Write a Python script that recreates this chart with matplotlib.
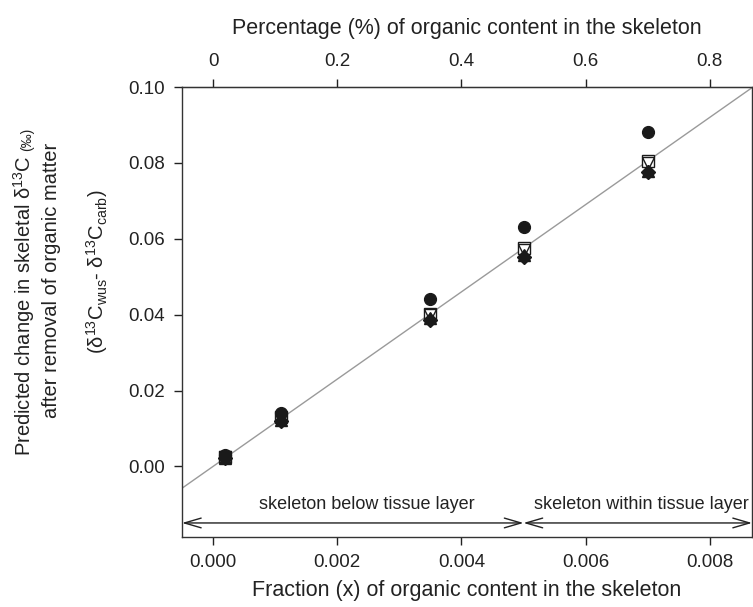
import matplotlib
matplotlib.use("Agg")
import matplotlib.pyplot as plt

plt.rcParams['font.family'] = ['Liberation Sans', 'DejaVu Sans']
plt.rcParams['mathtext.fontset'] = 'custom'
plt.rcParams['mathtext.rm'] = 'Liberation Sans'
plt.rcParams['mathtext.it'] = 'Liberation Sans'

# ---- data ----
fraction = [0.0002, 0.0011, 0.0035, 0.0050, 0.0070]
circle_vals = [0.0030, 0.0140, 0.0441, 0.0630, 0.0882]
square_vals = [0.0025, 0.0130, 0.0402, 0.0575, 0.0806]
tri_down_vals = [0.0024, 0.0128, 0.0398, 0.0570, 0.0800]
diamond_vals = [0.0021, 0.0120, 0.0386, 0.0553, 0.0775]
tri_up_vals = [0.0022, 0.0122, 0.0390, 0.0557, 0.0778]
line_slope = 11.5

bottom_ticks = [0.000, 0.002, 0.004, 0.006, 0.008]
bottom_labels = ["0.000", "0.002", "0.004", "0.006", "0.008"]
top_ticks = [0, 0.2, 0.4, 0.6, 0.8]
top_labels = ["0", "0.2", "0.4", "0.6", "0.8"]
y_ticks = [0.00, 0.02, 0.04, 0.06, 0.08, 0.10]
y_labels = ["0.00", "0.02", "0.04", "0.06", "0.08", "0.10"]

region_bounds = [-0.0005, 0.0050, 0.00868]
region_labels = ["skeleton below tissue layer", "skeleton within tissue layer"]

W, H = 753, 607
fig = plt.figure(figsize=(W / 100, H / 100), dpi=100)
ax = fig.add_axes([182 / W, 1 - 537 / H, 570 / W, 450 / H])

ax.set_xlim(region_bounds[0], region_bounds[2])
ax.set_ylim(-0.0186, 0.10)

ax.axline((0, 0), slope=line_slope, color='#9a9a9a', lw=1.0, zorder=1)

mc = '#1a1a1a'
ax.plot(fraction, square_vals, 's', mfc='white', mec=mc, mew=1.0, ms=8.5, zorder=3)
ax.plot(fraction, tri_down_vals, 'v', mfc='none', mec=mc, mew=1.0, ms=8, zorder=3)
ax.plot(fraction, diamond_vals, 'D', color=mc, ms=7, zorder=4)
ax.plot(fraction, tri_up_vals, '^', color=mc, ms=8, zorder=4)
ax.plot(fraction, circle_vals, 'o', color=mc, ms=8.5, zorder=5)

# region arrows
arrow_y = -0.0149
for i in range(2):
    ax.annotate('', xy=(region_bounds[i], arrow_y), xytext=(region_bounds[i + 1], arrow_y),
                arrowprops=dict(arrowstyle='<->,head_length=1.2,head_width=0.35',
                                color='#222222', lw=1.0, shrinkA=0, shrinkB=0))
ax.text(0.00247, -0.0101, region_labels[0], ha='center', va='center', fontsize=13, color='#222222')
ax.text(0.00690, -0.0101, region_labels[1], ha='center', va='center', fontsize=13, color='#222222')

ax.set_xticks(bottom_ticks)
ax.set_xticklabels(bottom_labels)
ax.set_yticks(y_ticks)
ax.set_yticklabels(y_labels)
ax.tick_params(direction='out', length=6, width=1, labelsize=13.5, colors='#222222', pad=6)
for s in ax.spines.values():
    s.set_color('#333333')
    s.set_linewidth(1.0)

sec = ax.secondary_xaxis('top', functions=(lambda v: v * 100, lambda v: v / 100))
sec.set_xticks(top_ticks)
sec.set_xticklabels(top_labels)
sec.tick_params(direction='out', length=6, width=1, labelsize=13.5, colors='#222222', pad=6)

ax.set_xlabel("Fraction (x) of organic content in the skeleton", fontsize=15.5, color='#222222', labelpad=7)
sec.set_xlabel("Percentage (%) of organic content in the skeleton", fontsize=15.5, color='#222222', labelpad=14)

# y label, line 1 (main part + small per-mille)
base_x = 31 / W
t1 = fig.text(base_x, 0.3, "Predicted change in skeletal δ$^{13}$C", rotation=90,
              ha='left', va='baseline', rotation_mode='anchor', fontsize=14.5, color='#222222')
t2 = fig.text(base_x, 0.8, "(‰)", rotation=90,
              ha='left', va='baseline', rotation_mode='anchor', fontsize=10, color='#222222')
fig.canvas.draw()
r = fig.canvas.get_renderer()
h1 = t1.get_window_extent(r).height
h2 = t2.get_window_extent(r).height
gap = 4
center_px = H - 292
start = center_px - (h1 + gap + h2) / 2
t1.set_position((base_x, start / H))
t2.set_position((base_x, (start + h1 + gap) / H))

fig.text(52 / W, 1 - 280 / H, "after removal of organic matter", rotation=90,
         ha='center', va='center', fontsize=14.5, color='#222222')
fig.text(97 / W, 1 - 272 / H, "(δ$^{13}$C$_{\\mathrm{wus}}$- δ$^{13}$C$_{\\mathrm{carb}}$)", rotation=90,
         ha='center', va='center', fontsize=14.5, color='#222222')

fig.savefig("out.png", dpi=100)
